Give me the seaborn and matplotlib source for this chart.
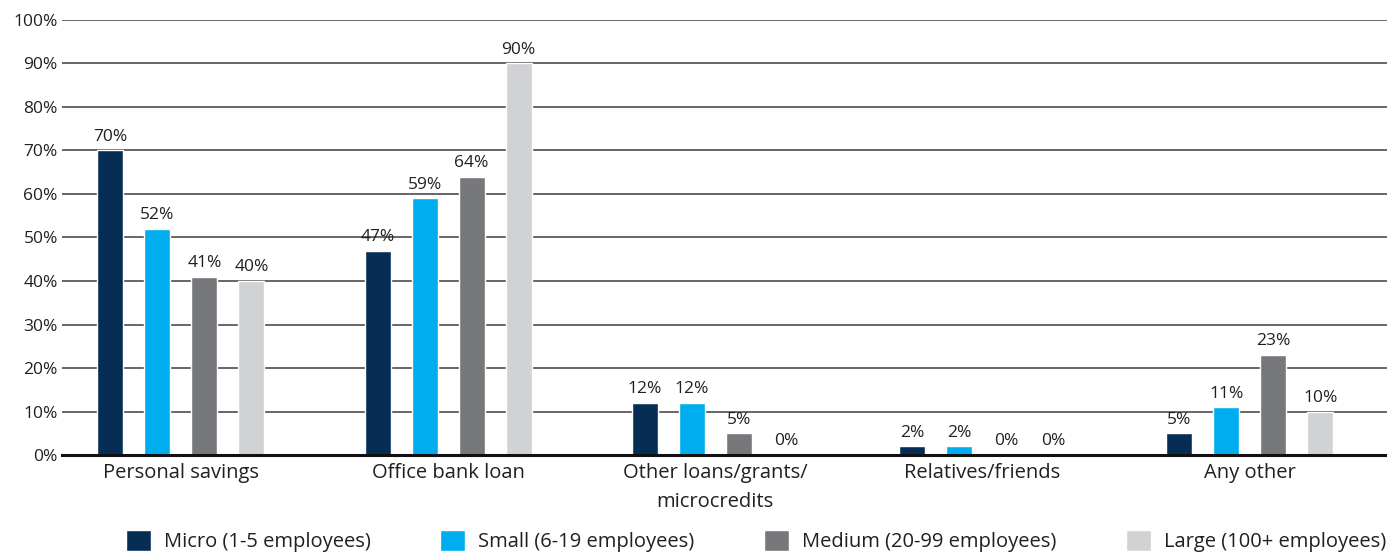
import matplotlib
matplotlib.use("Agg")
import matplotlib.pyplot as plt
import pandas as pd
import seaborn as sns

categories = ["Personal savings", "Office bank loan", "Other loans/grants/\nmicrocredits",
              "Relatives/friends", "Any other"]
sizes = ["Micro (1-5 employees)", "Small (6-19 employees)",
         "Medium (20-99 employees)", "Large (100+ employees)"]
micro = [70, 47, 12, 2, 5]
small = [52, 59, 12, 2, 11]
medium = [41, 64, 5, 0, 23]
large = [40, 90, 0, 0, 10]
colors = ["#062e55", "#00aeef", "#77787b", "#d1d2d4"]

rows = []
for size, vals in zip(sizes, [micro, small, medium, large]):
    for cat, v in zip(categories, vals):
        rows.append({"category": cat, "size": size, "value": v})
df = pd.DataFrame(rows)

sns.set_style("white")
plt.rcParams["font.family"] = ["Open Sans", "DejaVu Sans"]
text_color = "#231f20"

fig = plt.figure(figsize=(13.87, 5.52), dpi=100)
ax = fig.add_axes([0.0447, 0.1757, 0.9553, 0.7881])

sns.barplot(data=df, x="category", y="value", hue="size", palette=colors,
            width=0.704, gap=0.447, ax=ax, legend=True, saturation=1)

for cont in ax.containers:
    ax.bar_label(cont, labels=[f"{int(v)}%" for v in cont.datavalues],
                 padding=4, fontsize=12.5, color=text_color)

ax.set_ylim(0, 100)
ax.set_xlim(-0.445, 4.514)
ax.set_yticks(range(0, 101, 10))
ax.set_yticklabels([f"{t}%" for t in range(0, 101, 10)], fontsize=12.5, color=text_color)
ax.tick_params(axis="x", labelsize=14.5, colors=text_color, length=0, pad=6)
ax.tick_params(axis="y", length=0, pad=3)
for lbl in ax.get_xticklabels():
    lbl.set_linespacing(1.6)
ax.set_xlabel("")
ax.set_ylabel("")
ax.set_axisbelow(True)
ax.yaxis.grid(True, color="#4d4d4d", linewidth=1.2)
for s in ["top", "right", "left"]:
    ax.spines[s].set_visible(False)
ax.spines["bottom"].set_color("#111111")
ax.spines["bottom"].set_linewidth(2.2)

handles, labels = ax.get_legend_handles_labels()
ax.get_legend().remove()
fig.legend(handles, labels, loc="center", bbox_to_anchor=(0.545, 0.02), ncol=4,
           frameon=False, fontsize=14.5, handlelength=1.24, handleheight=1.24,
           columnspacing=3.45, handletextpad=0.65, labelcolor=text_color,
           borderpad=0, borderaxespad=0)

fig.savefig("out.png", dpi=100)
